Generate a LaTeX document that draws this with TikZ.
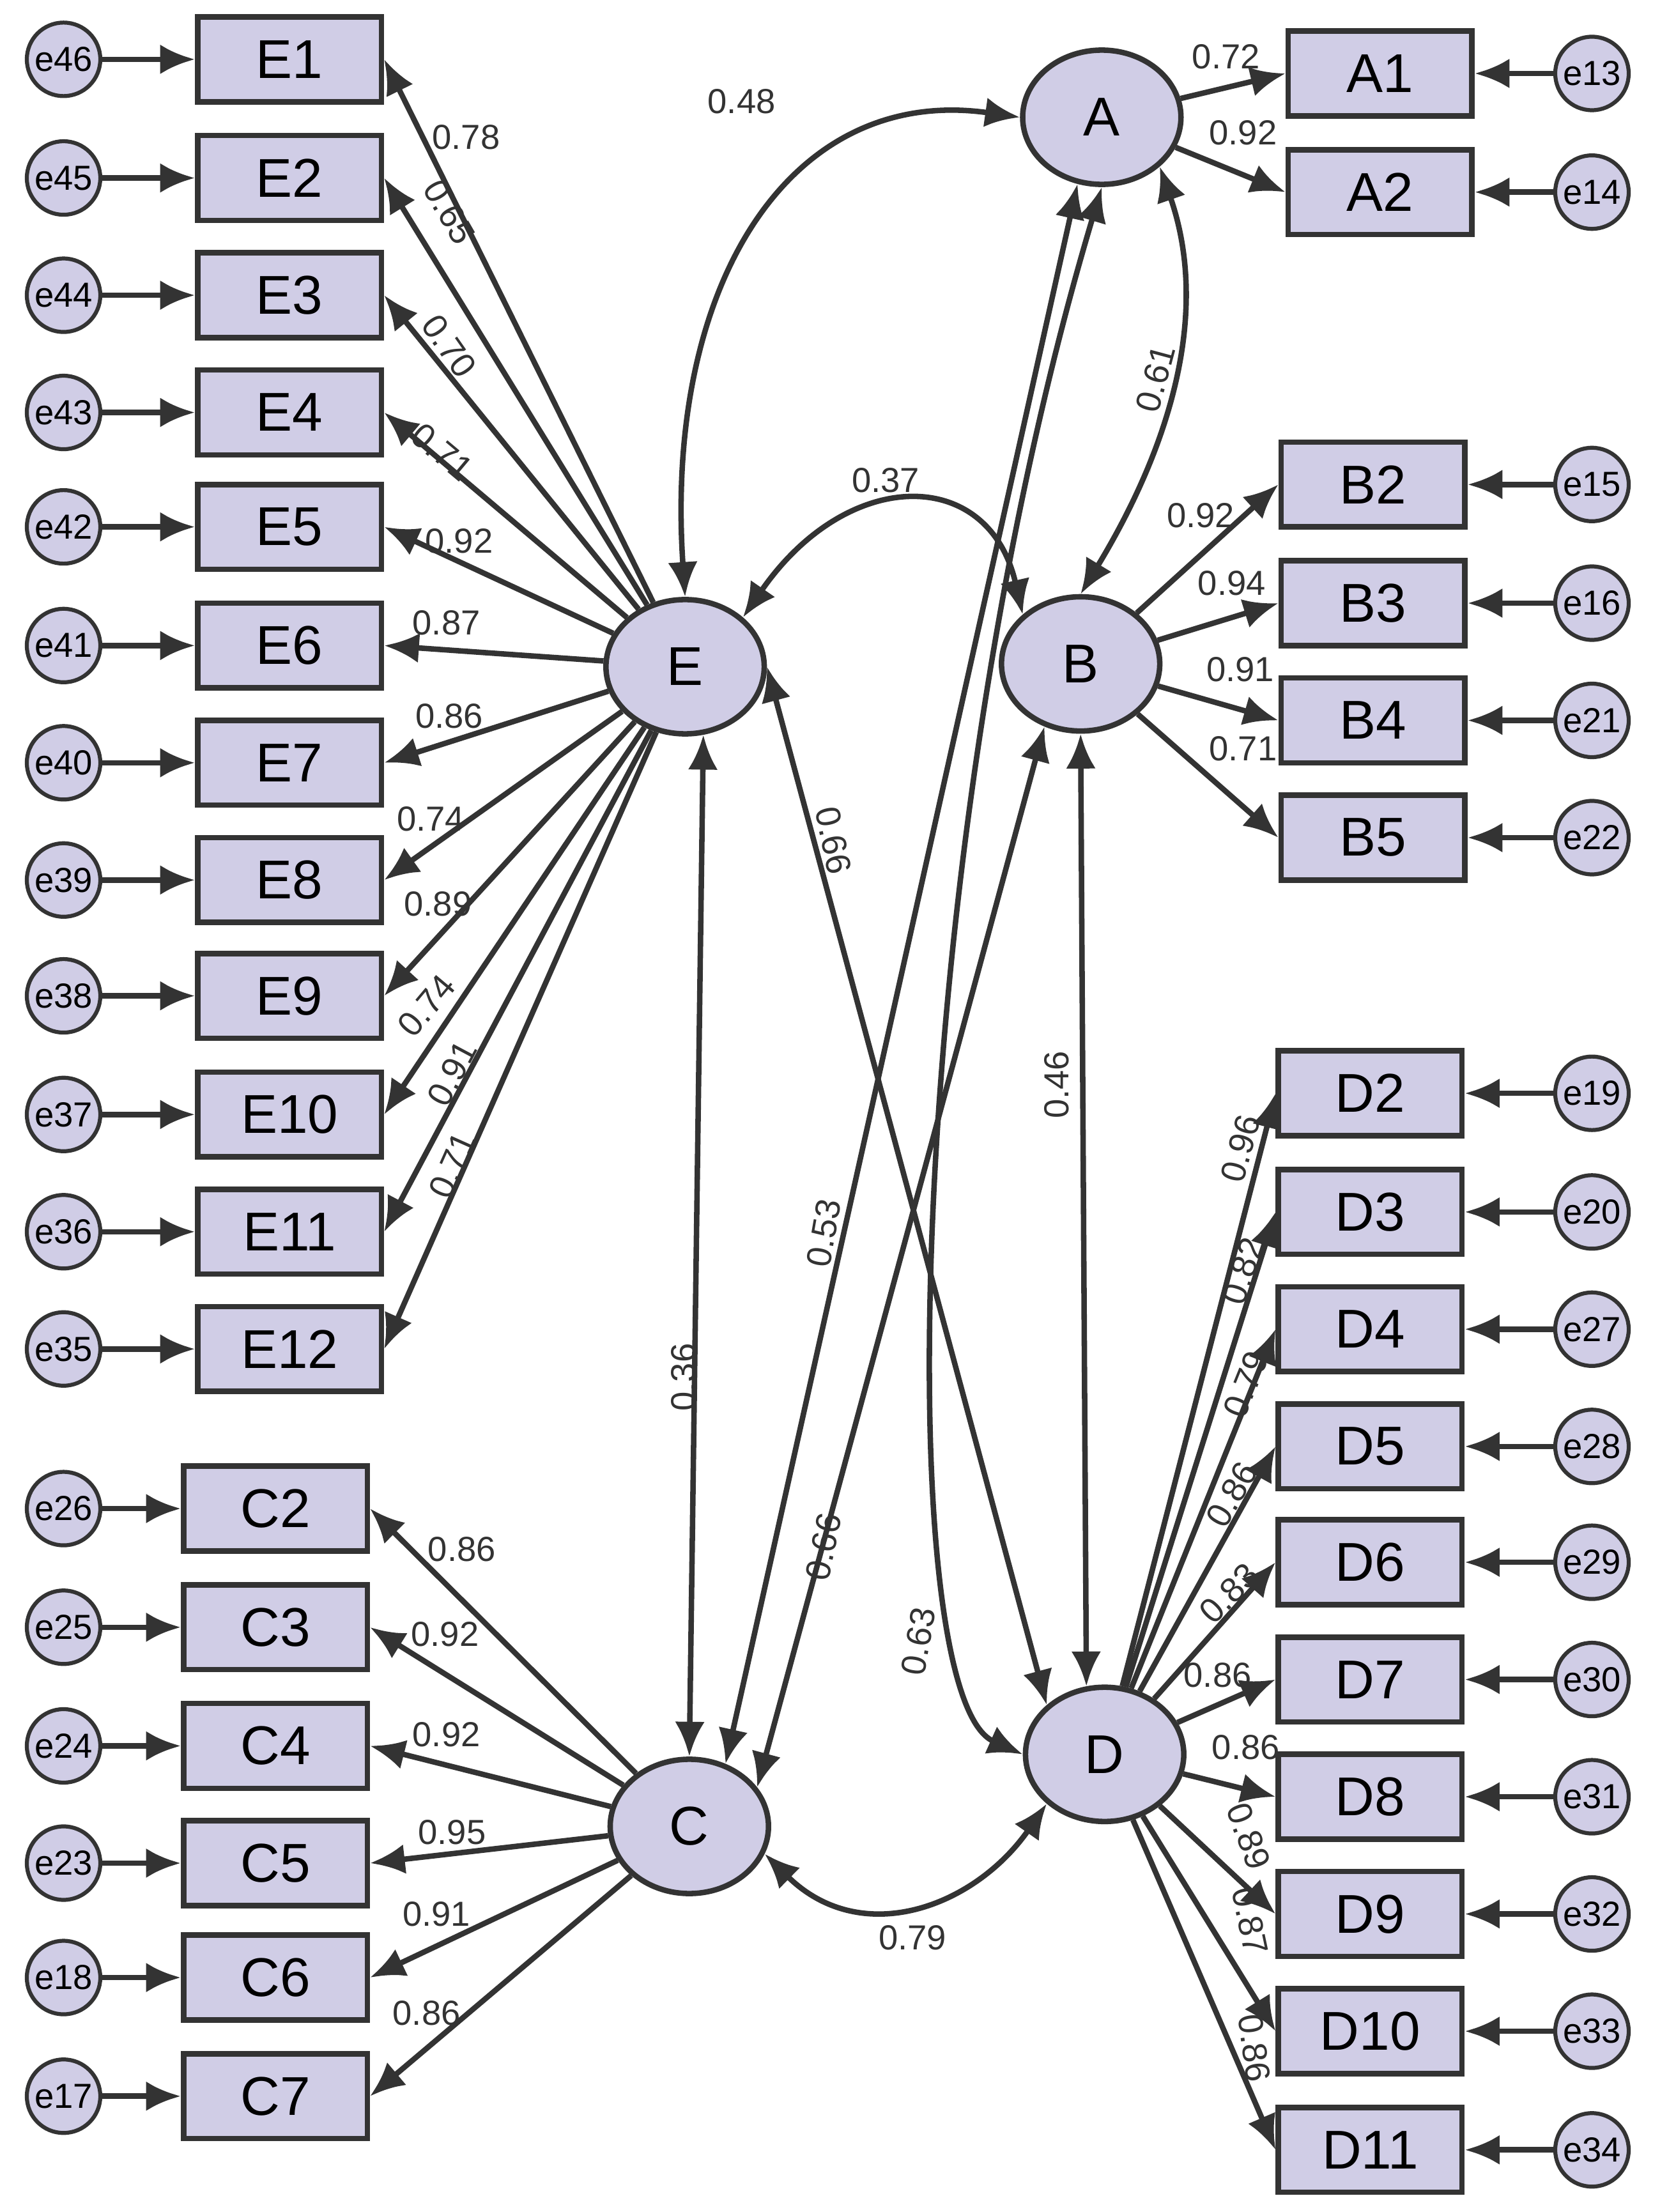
\documentclass[tikz,border=0pt]{standalone}
\usepackage{fontspec}
\setmainfont{Liberation Sans}
\usetikzlibrary{arrows.meta,shapes.geometric}
\definecolor{boxfill}{HTML}{D0CDE6}
\definecolor{linegray}{HTML}{333333}
\tikzset{
  obs/.style={draw=linegray,line width=1.1pt,fill=boxfill,minimum width=1.3cm,minimum height=0.6cm,font=\fontsize{11}{11}\selectfont},
  lat/.style={ellipse,draw=linegray,line width=1.1pt,fill=boxfill,minimum width=1.12cm,minimum height=0.95cm,font=\fontsize{11}{11}\selectfont},
  err/.style={circle,draw=linegray,line width=0.8pt,fill=boxfill,minimum size=0.52cm,inner sep=0pt,font=\fontsize{7}{7}\selectfont},
  arr/.style={draw=linegray,line width=1.1pt,-{Latex[length=7pt,width=6pt]}},
  cov/.style={draw=linegray,line width=1.1pt,{Latex[length=7pt,width=6pt]}-{Latex[length=7pt,width=6pt]}},
  lab/.style={font=\fontsize{7}{7}\selectfont,text=linegray,inner sep=1pt}
}
\begin{document}
\begin{tikzpicture}[x=0.01cm,y=-0.01cm]
  \useasboundingbox (0,0) rectangle (1170,1566);

  % latent factors
  \node[lat] (A) at (780,83) {A};
  \node[lat] (E) at (485,472) {E};
  \node[lat] (B) at (765,470) {B};
  \node[lat] (C) at (488,1293) {C};
  \node[lat] (D) at (782,1242) {D};

  % E indicators
  \foreach \i/\y/\e in {1/42/46,2/126/45,3/209/44,4/292/43,5/373/42,6/457/41,7/540/40,8/623/39,9/705/38,10/789/37,11/872/36,12/955/35}{
    \node[obs] (E\i) at (205,\y) {E\i};
    \node[err] (e\e) at (45,\y) {e\e};
    \draw[arr] (e\e) -- (E\i);
    \draw[arr] (E) -- (E\i.east);
  }
  % C indicators
  \foreach \i/\y/\e in {2/1068/26,3/1152/25,4/1236/24,5/1319/23,6/1400/18,7/1484/17}{
    \node[obs] (C\i) at (195,\y) {C\i};
    \node[err] (e\e) at (45,\y) {e\e};
    \draw[arr] (e\e) -- (C\i);
    \draw[arr] (C) -- (C\i.east);
  }
  % A indicators
  \foreach \i/\y/\e in {1/52/13,2/136/14}{
    \node[obs] (A\i) at (977,\y) {A\i};
    \node[err] (e\e) at (1127,\y) {e\e};
    \draw[arr] (e\e) -- (A\i);
    \draw[arr] (A) -- (A\i.west);
  }
  % B indicators
  \foreach \i/\y/\e in {2/343/15,3/427/16,4/510/21,5/593/22}{
    \node[obs] (B\i) at (972,\y) {B\i};
    \node[err] (e\e) at (1127,\y) {e\e};
    \draw[arr] (e\e) -- (B\i);
    \draw[arr] (B) -- (B\i.west);
  }
  % D indicators
  \foreach \i/\y/\e in {2/774/19,3/858/20,4/941/27,5/1024/28,6/1106/29,7/1189/30,8/1272/31,9/1355/32,10/1438/33,11/1522/34}{
    \node[obs] (D\i) at (970,\y) {D\i};
    \node[err] (e\e) at (1127,\y) {e\e};
    \draw[arr] (e\e) -- (D\i);
    \draw[arr] (D) -- (D\i.west);
  }

  % loadings
  \foreach \x/\y/\r/\t in {330/97/0/0.78,318/150/-60/0.65,318/245/-55/0.70,313/320/-40/0.71,325/383/0/0.92,316/441/0/0.87,318/507/0/0.86,305/580/0/0.74,310/640/0/0.89,302/712/50/0.74,320/760/62/0.91,320/825/66/0.71,
    327/1097/0/0.86,315/1157/0/0.92,316/1228/0/0.92,320/1297/0/0.95,309/1355/0/0.91,302/1425/0/0.86,
    868/40/0/0.72,880/94/0/0.92,850/365/0/0.92,872/413/0/0.94,878/474/0/0.91,880/530/0/0.71,
    878/813/75/0.96,880/900/72/0.82,882/980/68/0.79,872/1058/60/0.86,870/1128/45/0.83,862/1186/0/0.86,882/1237/0/0.86,884/1300/-70/0.89,885/1360/-78/0.87,888/1450/-82/0.86}
    \node[lab,rotate=\r] at (\x,\y) {\t};

  % covariances
  \draw[cov] (E.north) .. controls (470,200) and (560,60) .. (A.west);
  \draw[cov] (A.south east) .. controls (860,230) and (820,330) .. (B.north);
  \draw[cov] (E.north east) .. controls (600,330) and (700,330) .. (B.north west);
  \draw[cov] (E.-75) -- (C.north);
  \draw[cov] (E.east) -- (D.north west);
  \draw[cov] (A.250) -- (C.60);
  \draw[cov] (A.south) .. controls (640,600) and (630,1200) .. (D.west);
  \draw[cov] (B.240) -- (C.30);
  \draw[cov] (B.south) -- (D.105);
  \draw[cov] (C.-20) .. controls (610,1380) and (690,1350) .. (D.south west);

  \node[lab] at (525,72) {0.48};
  \node[lab,rotate=75] at (818,268) {0.61};
  \node[lab] at (627,340) {0.37};
  \node[lab,rotate=90] at (484,975) {0.36};
  \node[lab,rotate=-78] at (590,595) {0.66};
  \node[lab,rotate=80] at (583,873) {0.53};
  \node[lab,rotate=80] at (650,1162) {0.63};
  \node[lab,rotate=78] at (583,1095) {0.66};
  \node[lab,rotate=90] at (748,768) {0.46};
  \node[lab] at (646,1372) {0.79};
\end{tikzpicture}
\end{document}
